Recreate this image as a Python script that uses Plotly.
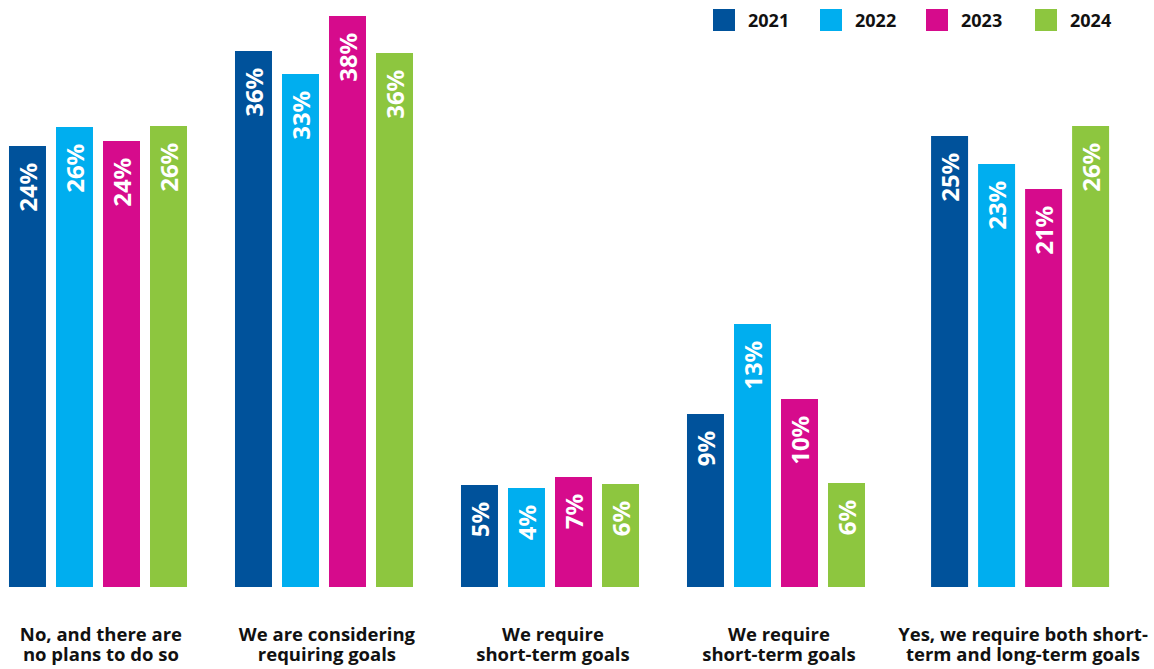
import plotly.graph_objects as go

# ---- data -------------------------------------------------------------
categories = [
    "No, and there are<br>no plans to do so",
    "We are considering<br>requiring goals",
    "We require<br>short-term goals",
    "We require<br>short-term goals",
    "Yes, we require both short-<br>term and long-term goals",
]
years = ["2021", "2022", "2023", "2024"]

# percentage labels printed on the bars
labels_2021 = [24, 36, 5, 9, 25]
labels_2022 = [26, 33, 4, 13, 23]
labels_2023 = [24, 38, 7, 10, 21]
labels_2024 = [26, 36, 6, 6, 26]

# drawn bar heights (the original is not to scale)
heights_2021 = [441, 536, 102, 173, 451]
heights_2022 = [460, 513, 99, 263, 423]
heights_2023 = [446, 571, 110, 188, 398]
heights_2024 = [461, 534, 103, 104, 461]

colors = ["#00529B", "#00AEEF", "#D60B8C", "#8DC63F"]

# ---- layout constants --------------------------------------------------
W, H = 1154, 669
PLOT_BOTTOM = 587
group_x = [0, 1, 2, 3, 4.08]
LABEL_SHIFT = 0.013
FONT = "Open Sans"
XRANGE = [-98 / 226, (W - 98) / 226]

labels = [labels_2021, labels_2022, labels_2023, labels_2024]
heights = [heights_2021, heights_2022, heights_2023, heights_2024]
line1 = [c.split("<br>")[0] for c in categories]
line2 = [c.split("<br>")[1] for c in categories]
tick_pos = [g + LABEL_SHIFT for g in group_x]

fig = go.Figure()
pad = "<span style='color:rgba(0,0,0,0)'>0</span>"
for yr, lab, hts, col in zip(years, labels, heights, colors):
    fig.add_trace(go.Bar(
        name=yr, x=group_x, y=hts,
        marker=dict(color=col, line=dict(width=0)),
        text=[f"{v}%{pad}" for v in lab],
        textposition="inside", insidetextanchor="end", textangle=-90,
        constraintext="none",
        textfont=dict(family="Noto Sans", size=24, color="white", weight="bold"),
        hoverinfo="skip", showlegend=False,
    ))
# empty trace that carries the second line of the category labels
fig.add_trace(go.Scatter(x=[], y=[], xaxis="x2", showlegend=False,
                         hoverinfo="skip"))

# custom legend (large square swatches)
legend_x = [713, 820, 926, 1035]
shapes, annotations = [], []
plot_h = PLOT_BOTTOM
for yr, col, lx in zip(years, colors, legend_x):
    shapes.append(dict(type="rect", xref="paper", yref="paper",
                       x0=lx / W, x1=(lx + 22) / W,
                       y0=(plot_h - 31) / plot_h, y1=(plot_h - 9) / plot_h,
                       fillcolor=col, line=dict(width=0)))
    annotations.append(dict(text=f"<b>{yr}</b>", xref="paper", yref="paper",
                            x=(lx + 33) / W, y=(plot_h - 20) / plot_h,
                            xanchor="left", yanchor="middle", showarrow=False,
                            font=dict(family=FONT, size=18, color="#111111")))

tick_common = dict(range=XRANGE, tickvals=tick_pos, ticks="outside",
                   tickcolor="rgba(0,0,0,0)", automargin=False,
                   showgrid=False, zeroline=False, showline=False,
                   tickfont=dict(family=FONT, size=18.5, color="#111111"))

fig.update_layout(
    width=W, height=H,
    margin=dict(l=0, r=0, t=0, b=H - PLOT_BOTTOM, pad=0),
    paper_bgcolor="white", plot_bgcolor="white",
    barmode="group", bargap=0.168, bargroupgap=0.213,
    shapes=shapes, annotations=annotations,
    xaxis=dict(ticktext=[f"<b>{c}</b>" for c in line1], ticklen=31,
               **tick_common),
    xaxis2=dict(ticktext=[f"<b>{c}</b>" for c in line2], ticklen=51,
                overlaying="x", side="bottom", anchor="y", matches="x",
                **tick_common),
    yaxis=dict(range=[0, PLOT_BOTTOM], visible=False, showgrid=False,
               automargin=False),
)

fig.write_html("out.html")
